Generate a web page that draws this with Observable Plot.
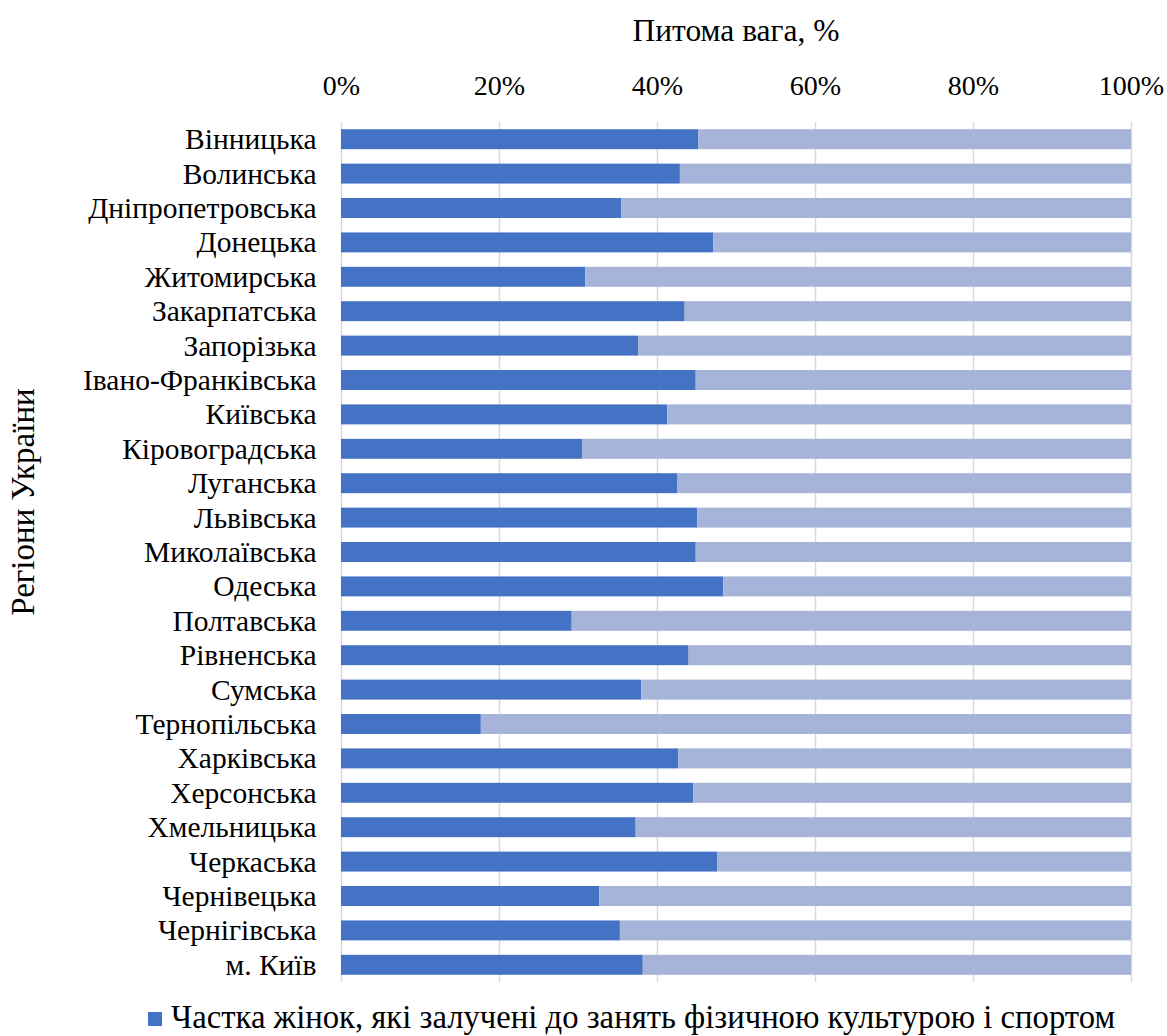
<!DOCTYPE html>
<html>
<head>
<meta charset="utf-8">
<script src="https://cdn.jsdelivr.net/npm/d3@7"></script>
<script src="https://cdn.jsdelivr.net/npm/@observablehq/plot@0.6"></script>
<style>
  html, body { margin: 0; padding: 0; background: #fff; }
  #wrap { position: relative; width: 1167px; height: 1036px; font-family: 'Liberation Serif', serif; color: #000; }
  #xtitle { position: absolute; left: 0; width: 1472px; top: 15px; text-align: center; font-size: 31.5px; line-height: 1; white-space: nowrap; }
  #ytitle { position: absolute; left: 23px; top: 502px; transform: translate(-50%, -50%) rotate(-90deg); font-size: 33px; line-height: 1; white-space: nowrap; }
  #legsw { position: absolute; left: 148px; top: 1012px; width: 14px; height: 14px; background: #4472C4; }
  #legtx { position: absolute; left: 171px; top: 1001px; font-size: 32.7px; line-height: 1; white-space: nowrap; }
</style>
</head>
<body>
<div id="wrap">
  <div id="xtitle">Питома вага, %</div>
  <div id="ytitle">Регіони України</div>
  <div id="legsw"></div>
  <div id="legtx">Частка жінок, які залучені до занять фізичною культурою і спортом</div>
</div>
<script>
const regions = ["Вінницька","Волинська","Дніпропетровська","Донецька","Житомирська","Закарпатська","Запорізька","Івано-Франківська","Київська","Кіровоградська","Луганська","Львівська","Миколаївська","Одеська","Полтавська","Рівненська","Сумська","Тернопільська","Харківська","Херсонська","Хмельницька","Черкаська","Чернівецька","Чернігівська","м. Київ"];
const womenShare = [45.2, 42.9, 35.5, 47.1, 30.9, 43.5, 37.6, 44.9, 41.3, 30.5, 42.6, 45.1, 44.9, 48.4, 29.2, 44.0, 38.0, 17.7, 42.7, 44.6, 37.3, 47.6, 32.7, 35.3, 38.2];
const seriesNames = ["Частка жінок, які залучені до занять фізичною культурою і спортом", "Інші"];
const seriesColors = ["#4472C4", "#A7B4DA"];
const xTicks = [0, 20, 40, 60, 80, 100];

const rows = [];
regions.forEach((r, i) => {
  rows.push({region: r, series: seriesNames[0], value: womenShare[i]});
  rows.push({region: r, series: seriesNames[1], value: 100 - womenShare[i]});
});

const chart = Plot.plot({
  width: 1167,
  height: 990,
  marginTop: 122,
  marginBottom: 8,
  marginLeft: 341,
  marginRight: 36,
  style: {fontFamily: "Liberation Serif", fontSize: "29.5px", color: "#000", background: "#fff"},
  x: {domain: [0, 100], ticks: xTicks, axis: null},
  y: {domain: regions, paddingInner: 0.42, paddingOuter: 0.21, round: false, axis: null},
  color: {domain: seriesNames, range: seriesColors},
  marks: [
    Plot.gridX(xTicks, {stroke: "#D9D9D9", strokeOpacity: 1, strokeWidth: 1.5}),
    Plot.barX(rows, Plot.stackX({x: "value", y: "region", fill: "series", order: seriesNames})),
    Plot.axisX(xTicks, {anchor: "top", tickSize: 0, tickPadding: 28, tickFormat: d => d + "%", label: null, fontSize: 28}),
    Plot.axisY({anchor: "left", tickSize: 0, tickPadding: 25, label: null, fontSize: 29.5})
  ]
});
document.getElementById("wrap").prepend(chart);
chart.style.position = "absolute";
chart.style.left = "0";
chart.style.top = "0";
</script>
</body>
</html>
